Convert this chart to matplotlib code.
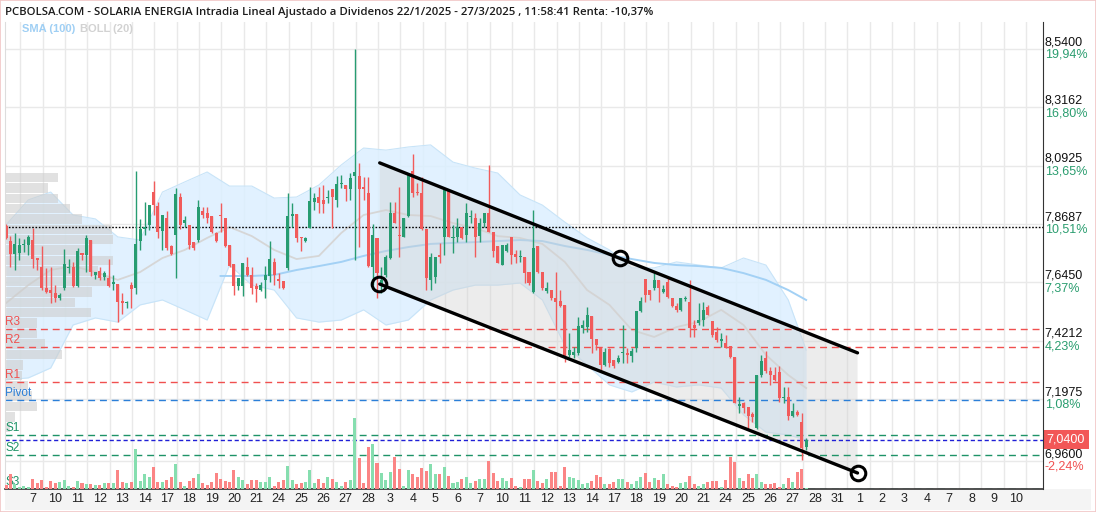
import numpy as np
import matplotlib
matplotlib.use("Agg")
import matplotlib.pyplot as plt
from matplotlib.patches import Rectangle, Polygon

# --- datos: velas intradia SOLARIA (5 velas por sesion) ---
apertura = [7.862, 7.804, 7.753, 7.756, 7.787, 7.788, 7.807, 7.738, 7.702, 7.623,
            7.615, 7.603, 7.583, 7.624, 7.700, 7.705, 7.631, 7.757, 7.750, 7.807,
            7.673, 7.688, 7.666, 7.660, 7.637, 7.638, 7.573, 7.564, 7.634, 7.622,
            7.804, 7.849, 7.865, 7.992, 7.938, 7.843, 7.890, 7.784, 7.826, 7.973,
            7.874, 7.865, 7.799, 7.807, 7.918, 7.912, 7.899, 7.833, 7.903, 7.890,
            7.788, 7.715, 7.631, 7.631, 7.702, 7.673, 7.632, 7.615, 7.654, 7.670,
            7.724, 7.656, 7.650, 7.701, 7.899, 7.908, 7.820, 7.804, 7.854, 7.954,
            7.973, 7.961, 7.967, 8.003, 7.961, 8.021, 8.018, 8.003, 8.053, 8.053,
            8.012, 7.986, 7.705, 7.816, 7.634, 7.673, 7.737, 7.910, 7.826, 7.820,
            7.899, 8.072, 7.992, 7.989, 7.848, 7.654, 7.664, 7.750, 7.820, 7.995,
            7.814, 7.820, 7.858, 7.826, 7.895, 7.893, 7.824, 7.871, 7.910, 7.839,
            7.784, 7.711, 7.766, 7.817, 7.752, 7.741, 7.743, 7.685, 7.609, 7.784,
            7.685, 7.611, 7.615, 7.583, 7.574, 7.558, 7.366, 7.366, 7.372, 7.468,
            7.474, 7.515, 7.426, 7.392, 7.327, 7.388, 7.347, 7.340, 7.372, 7.372,
            7.362, 7.392, 7.536, 7.656, 7.615, 7.622, 7.654, 7.609, 7.647, 7.583,
            7.554, 7.539, 7.580, 7.570, 7.481, 7.487, 7.500, 7.551, 7.496, 7.455,
            7.420, 7.411, 7.400, 7.357, 7.171, 7.180, 7.167, 7.139, 7.085, 7.289,
            7.353, 7.304, 7.289, 7.299, 7.200, 7.203, 7.133, 7.148, 7.110, 7.014]
maximo = [7.868, 7.822, 7.835, 7.815, 7.811, 7.826, 7.853, 7.739, 7.784, 7.700,
          7.705, 7.634, 7.604, 7.773, 7.734, 7.724, 7.775, 7.757, 7.826, 7.807,
          7.683, 7.705, 7.688, 7.733, 7.673, 7.638, 7.603, 7.573, 7.647, 8.072,
          7.887, 7.954, 7.941, 8.033, 7.954, 7.903, 7.918, 7.788, 8.005, 7.989,
          7.899, 7.865, 7.799, 7.961, 7.935, 7.933, 7.899, 7.839, 7.948, 7.890,
          7.788, 7.715, 7.662, 7.718, 7.741, 7.705, 7.641, 7.647, 7.707, 7.804,
          7.737, 7.679, 7.650, 7.989, 7.948, 7.908, 7.820, 7.820, 8.012, 7.986,
          8.012, 8.018, 7.999, 8.003, 8.053, 8.057, 8.018, 8.065, 8.539, 8.104,
          8.050, 8.050, 7.867, 7.816, 7.705, 7.750, 7.954, 7.954, 8.012, 7.890,
          8.063, 8.136, 8.025, 8.050, 7.848, 7.757, 7.743, 7.794, 7.999, 7.995,
          7.865, 7.890, 7.858, 7.948, 7.922, 7.910, 7.890, 7.912, 8.095, 7.839,
          7.784, 7.788, 7.795, 7.817, 7.769, 7.769, 7.743, 7.685, 7.922, 7.784,
          7.685, 7.647, 7.615, 7.685, 7.615, 7.558, 7.449, 7.398, 7.513, 7.500,
          7.551, 7.515, 7.426, 7.392, 7.392, 7.392, 7.347, 7.366, 7.481, 7.392,
          7.394, 7.535, 7.587, 7.656, 7.615, 7.679, 7.654, 7.634, 7.660, 7.583,
          7.564, 7.583, 7.592, 7.654, 7.500, 7.564, 7.570, 7.558, 7.496, 7.472,
          7.449, 7.443, 7.400, 7.357, 7.206, 7.187, 7.167, 7.148, 7.289, 7.366,
          7.381, 7.321, 7.321, 7.324, 7.244, 7.244, 7.180, 7.155, 7.142, 7.046]
minimo = [7.811, 7.703, 7.692, 7.730, 7.762, 7.750, 7.700, 7.692, 7.615, 7.605,
          7.567, 7.570, 7.577, 7.615, 7.682, 7.628, 7.628, 7.730, 7.686, 7.669,
          7.656, 7.654, 7.654, 7.628, 7.615, 7.494, 7.523, 7.546, 7.545, 7.600,
          7.769, 7.826, 7.845, 7.903, 7.814, 7.769, 7.769, 7.750, 7.662, 7.848,
          7.856, 7.771, 7.769, 7.801, 7.890, 7.871, 7.834, 7.801, 7.839, 7.781,
          7.705, 7.596, 7.615, 7.593, 7.669, 7.600, 7.570, 7.613, 7.583, 7.647,
          7.634, 7.624, 7.619, 7.692, 7.858, 7.801, 7.766, 7.801, 7.854, 7.922,
          7.910, 7.910, 7.948, 7.852, 7.935, 8.005, 7.958, 7.961, 7.730, 7.781,
          7.961, 7.705, 7.634, 7.583, 7.603, 7.664, 7.734, 7.871, 7.743, 7.817,
          7.896, 7.971, 7.980, 7.845, 7.615, 7.615, 7.641, 7.720, 7.750, 7.819,
          7.756, 7.801, 7.810, 7.801, 7.871, 7.743, 7.801, 7.858, 7.839, 7.743,
          7.718, 7.711, 7.760, 7.715, 7.720, 7.724, 7.641, 7.634, 7.603, 7.679,
          7.615, 7.603, 7.577, 7.462, 7.551, 7.340, 7.359, 7.353, 7.366, 7.449,
          7.455, 7.372, 7.385, 7.302, 7.324, 7.321, 7.315, 7.335, 7.334, 7.334,
          7.340, 7.378, 7.532, 7.570, 7.577, 7.615, 7.570, 7.603, 7.583, 7.551,
          7.532, 7.536, 7.573, 7.436, 7.436, 7.481, 7.477, 7.519, 7.436, 7.417,
          7.398, 7.392, 7.353, 7.180, 7.142, 7.142, 7.085, 7.110, 7.081, 7.283,
          7.298, 7.251, 7.267, 7.187, 7.180, 7.116, 7.129, 7.132, 6.963, 7.001]
cierre = [7.814, 7.752, 7.792, 7.788, 7.792, 7.820, 7.734, 7.730, 7.622, 7.609,
          7.605, 7.583, 7.596, 7.715, 7.705, 7.631, 7.766, 7.750, 7.816, 7.686,
          7.683, 7.660, 7.679, 7.631, 7.647, 7.568, 7.567, 7.570, 7.620, 7.792,
          7.849, 7.858, 7.941, 7.941, 7.839, 7.903, 7.775, 7.753, 7.984, 7.865,
          7.884, 7.788, 7.775, 7.933, 7.903, 7.893, 7.839, 7.804, 7.900, 7.784,
          7.707, 7.631, 7.662, 7.718, 7.673, 7.624, 7.619, 7.634, 7.673, 7.734,
          7.673, 7.651, 7.624, 7.900, 7.908, 7.816, 7.814, 7.816, 7.957, 7.969,
          7.948, 7.944, 7.973, 7.973, 8.021, 8.025, 8.003, 8.046, 8.068, 8.002,
          8.003, 7.707, 7.826, 7.679, 7.654, 7.741, 7.912, 7.873, 7.824, 7.890,
          8.057, 7.989, 7.989, 7.849, 7.660, 7.741, 7.741, 7.741, 7.999, 7.820,
          7.820, 7.858, 7.814, 7.910, 7.899, 7.820, 7.873, 7.910, 7.839, 7.766,
          7.720, 7.788, 7.788, 7.750, 7.741, 7.743, 7.679, 7.641, 7.775, 7.683,
          7.622, 7.622, 7.583, 7.570, 7.555, 7.359, 7.385, 7.378, 7.477, 7.481,
          7.519, 7.426, 7.404, 7.327, 7.378, 7.334, 7.324, 7.353, 7.375, 7.366,
          7.381, 7.535, 7.574, 7.596, 7.596, 7.654, 7.622, 7.618, 7.587, 7.554,
          7.539, 7.583, 7.583, 7.468, 7.468, 7.500, 7.539, 7.519, 7.443, 7.423,
          7.427, 7.392, 7.357, 7.183, 7.178, 7.161, 7.132, 7.129, 7.289, 7.344,
          7.304, 7.289, 7.270, 7.200, 7.202, 7.133, 7.151, 7.136, 7.008, 7.040]
volumen = [40, 147, 47, 17, 30, 25, 100, 57, 90, 23,
           80, 57, 67, 90, 30, 23, 80, 57, 47, 47,
           40, 40, 57, 57, 57, 190, 67, 57, 67, 400,
           80, 147, 117, 217, 67, 67, 90, 117, 247, 67,
           30, 80, 107, 147, 57, 40, 67, 157, 100, 80,
           67, 190, 117, 90, 47, 90, 90, 67, 67, 117,
           30, 67, 90, 233, 90, 47, 57, 67, 190, 57,
           100, 57, 117, 100, 67, 30, 67, 90, 710, 310,
           57, 420, 450, 257, 157, 90, 167, 320, 197, 33,
           190, 147, 123, 207, 180, 247, 147, 147, 223, 133,
           57, 67, 100, 123, 57, 80, 100, 100, 280, 157,
           80, 107, 80, 107, 33, 17, 100, 100, 190, 80,
           57, 100, 167, 167, 30, 223, 123, 113, 90, 47,
           57, 80, 140, 123, 47, 47, 67, 100, 100, 67,
           47, 80, 123, 157, 67, 107, 90, 147, 47, 33,
           23, 57, 67, 133, 47, 33, 47, 67, 80, 80,
           23, 90, 323, 273, 107, 80, 147, 113, 147, 67,
           47, 47, 57, 23, 47, 107, 67, 167, 200, 7]

# sesiones: 6/2/2025 ... 27/3 con datos, luego dias futuros
dias = ["6", "7", "10", "11", "12", "13", "14", "17", "18", "19", "20", "21", "24", "25",
        "26", "27", "28", "3", "4", "5", "6", "7", "10", "11", "12", "13", "14", "17",
        "18", "19", "20", "21", "24", "25", "26", "27", "28", "31", "1", "2", "3", "4",
        "7", "8", "9", "10"]
velas_dia = 5

# bandas de Bollinger (20) y SMA (100), leidas cada 5 velas
banda_idx = [0, 5, 10, 15, 20, 25, 30, 35, 40, 45, 50, 55, 60, 65, 70, 75, 80, 85,
             90, 95, 100, 105, 110, 115, 120, 125, 130, 135, 140, 145, 150, 155, 160,
             165, 170, 175, 179]
boll_sup = [7.865, 7.961, 7.991, 7.903, 7.888, 7.819, 7.807, 7.991, 8.030, 8.068,
            8.014, 8.014, 7.968, 7.972, 8.018, 8.095, 8.160, 8.152, 8.164, 8.172,
            8.106, 8.083, 8.064, 7.980, 7.941, 7.876, 7.815, 7.769, 7.700, 7.700,
            7.723, 7.711, 7.700, 7.738, 7.711, 7.577, 7.385]
boll_inf = [7.270, 7.278, 7.316, 7.481, 7.508, 7.492, 7.558, 7.577, 7.539, 7.500,
            7.711, 7.634, 7.615, 7.508, 7.492, 7.500, 7.539, 7.481, 7.500, 7.577,
            7.615, 7.634, 7.634, 7.642, 7.577, 7.404, 7.327, 7.251, 7.224, 7.262,
            7.243, 7.251, 7.239, 7.136, 7.070, 7.059, 7.040]
boll_med = [7.565, 7.634, 7.692, 7.707, 7.684, 7.654, 7.684, 7.738, 7.769, 7.815,
            7.857, 7.822, 7.769, 7.734, 7.746, 7.834, 7.903, 7.922, 7.903, 7.899,
            7.872, 7.853, 7.822, 7.815, 7.792, 7.723, 7.615, 7.558, 7.462, 7.435,
            7.473, 7.493, 7.539, 7.481, 7.366, 7.289, 7.239]
sma_idx = [48, 50, 55, 60, 65, 70, 75, 80, 85, 90, 95, 100, 105, 110, 115, 120, 125,
           130, 135, 140, 145, 150, 155, 160, 165, 170, 175, 179]
sma100 = [7.669, 7.669, 7.669, 7.673, 7.692, 7.707, 7.723, 7.746, 7.765, 7.780, 7.792,
          7.796, 7.799, 7.803, 7.807, 7.803, 7.784, 7.769, 7.750, 7.734, 7.719, 7.711,
          7.707, 7.700, 7.680, 7.654, 7.615, 7.577]

# perfil de volumen por precio (lado izquierdo)
perfil_precio = [8.047, 8.007, 7.967, 7.928, 7.888, 7.848, 7.808, 7.768, 7.728, 7.688,
                 7.648, 7.608, 7.568, 7.528, 7.488, 7.448, 7.408, 7.368, 7.328, 7.288,
                 7.248, 7.208, 7.168, 7.128, 7.088]
perfil_vol = [53, 43, 53, 65, 77, 107, 108, 86, 108, 93, 106, 87, 70, 86, 32, 32, 40,
              57, 18, 17, 23, 27, 32, 10, 5]

# niveles pivote
pivotes = ["R3", "R2", "R1", "Pivot", "S1", "S2", "S3"]
pivote_val = [7.464, 7.395, 7.262, 7.193, 7.058, 6.983, 6.850]

# canal bajista dibujado (indice de vela, precio)
canal_x = [83.6, 190.5]
canal_sup = [8.103, 7.374]
canal_inf = [7.638, 6.913]
puntos_x = [83.4, 137.4, 190.6]
puntos_y = [7.638, 7.738, 6.913]

precio_ini = 7.857
precio_act = 7.04
ticks_y = [8.54, 8.3162, 8.0925, 7.8687, 7.645, 7.4212, 7.1975, 6.96]
ticks_pct = ["19,94%", "16,80%", "13,65%", "10,51%", "7,37%", "4,23%", "1,08%", "-2,24%"]

titulo = ("PCBOLSA.COM - SOLARIA ENERGIA Intradia Lineal Ajustado a Dividenos "
          "22/1/2025 - 27/3/2025 , 11:58:41 Renta: -10,37%")

# --- figura ---
W, H = 1096, 512
fig = plt.figure(figsize=(W / 100, H / 100), dpi=100)
plt.rcParams['font.family'] = ['Liberation Sans', 'DejaVu Sans']

# fondo de la banda de fechas (debajo de los ejes)
fig.patches.append(Rectangle((5 / W, 2 / H), (1091 - 5) / W, (512 - 489 - 2) / H,
                             transform=fig.transFigure, fc="#f4f4f4", ec="none",
                             zorder=-5))

px_l, px_r, px_t, px_b = 5, 1042.5, 22, 489
ax = fig.add_axes([px_l / W, (H - px_b) / H, (px_r - px_l) / W, (px_b - px_t) / H])
ax.patch.set_alpha(0)
px_por_vela = 4.47
x_ini = (px_l - 6) / px_por_vela
x_fin = (px_r - 6) / px_por_vela
ax.set_xlim(x_ini, x_fin)
ax.set_ylim(8.54 - (px_b - 49) / 260.6, 8.54 + (49 - px_t) / 260.6)

ax.spines["top"].set_visible(False)
ax.spines["left"].set_color("#dddddd")
ax.spines["right"].set_color("#333333")
ax.spines["bottom"].set_color("#333333")
ax.spines["bottom"].set_linewidth(1.2)
for s in ax.spines.values():
    s.set_zorder(20)
ax.set_xticks([])
ax.set_yticks([])

# rejilla
for t in ticks_y:
    ax.axhline(t, color="#e9e9e9", lw=1, zorder=0)
for d in range(len(dias)):
    ax.axvline(d * velas_dia + 3.2, color="#e9e9e9", lw=1, zorder=0)

# bandas
ax.fill_between(banda_idx, boll_inf, boll_sup, color="#dcefff", alpha=0.85, lw=0, zorder=1)
ax.plot(banda_idx, boll_sup, color="#c8e4f8", lw=0.8, zorder=1.1)
ax.plot(banda_idx, boll_inf, color="#c8e4f8", lw=0.8, zorder=1.1)
ax.plot(banda_idx, boll_med, color="#d6d6d6", lw=1.3, zorder=1.2)
ax.plot(sma_idx, sma100, color="#a3d1f5", lw=1.4, zorder=1.3)

# perfil de volumen
ax.barh(perfil_precio, np.array(perfil_vol) / px_por_vela, left=x_ini, height=0.036,
        color="#cdcdcd", alpha=0.6, lw=0, zorder=1.4)

# canal
poly = Polygon([(canal_x[0], canal_sup[0]), (canal_x[1], canal_sup[1]),
                (canal_x[1], canal_inf[1]), (canal_x[0], canal_inf[0])],
               closed=True, fc="#d2d2d2", ec="none", alpha=0.42, zorder=1.5)
ax.add_patch(poly)

# pivotes
col_piv = {"R": "#f0504f", "P": "#2b7fd8", "S": "#1e9367"}
for nom, val in zip(pivotes, pivote_val):
    col = col_piv[nom[0]]
    ax.axhline(val, color=col, lw=1, ls=(0, (5, 3.5)), zorder=2)
    ax.text(x_ini + 0.1, val + 0.004, nom, color=col, fontsize=8.5, va="bottom",
            ha="left", zorder=6)
ax.axhline(precio_act, color="#1f1fd6", lw=1, ls=(0, (3, 2)), zorder=2)
ax.axhline(precio_ini, color="black", lw=1, ls=(0, (1.2, 1.2)), zorder=2)

# velas
x = np.arange(len(cierre))
o = np.array(apertura)
c = np.array(cierre)
sube = c >= o
col_v = np.where(sube, "#279c71", "#f15b5b")
ax.vlines(x, minimo, maximo, colors=col_v, lw=1, zorder=3)
cuerpo = np.maximum(np.abs(c - o), 0.004)
ax.bar(x, cuerpo, bottom=np.minimum(o, c), width=0.68, color=col_v, lw=0, zorder=3.1)

# volumen
axv = ax.twinx()
axv.set_ylim(0, 4670)
axv.set_axis_off()
col_vol = np.where(sube, "#86deaf", "#fb8585")
axv.bar(x, volumen, width=0.68, color=col_vol, lw=0, zorder=2)
axv.set_xlim(x_ini, x_fin)

# lineas del canal y puntos
ax.plot(canal_x, canal_sup, color="black", lw=2.4, zorder=5, solid_capstyle="round")
ax.plot(canal_x, canal_inf, color="black", lw=2.4, zorder=5, solid_capstyle="round")
ax.plot(puntos_x, puntos_y, "o", ms=10.5, mfc="none", mec="black", mew=2.2, zorder=5.1)

# etiquetas eje derecho
for t, pct in zip(ticks_y, ticks_pct):
    ax.annotate(f"{t:.4f}".replace(".", ","), xy=(1, t), xycoords=("axes fraction", "data"),
                xytext=(1.5, 0.5), textcoords="offset points", fontsize=9, color="#111111",
                va="bottom", ha="left", annotation_clip=False)
    ax.annotate(pct, xy=(1, t), xycoords=("axes fraction", "data"),
                xytext=(1.5, 0), textcoords="offset points", fontsize=9,
                color="#f05050" if pct.startswith("-") else "#2a9d6f", va="top", ha="left",
                annotation_clip=False)
ax.annotate(f"{precio_act:.4f}".replace(".", ","), xy=(1, precio_act),
            xycoords=("axes fraction", "data"), xytext=(3, 0), textcoords="offset points",
            fontsize=9, color="white", va="center", ha="left", annotation_clip=False,
            bbox=dict(boxstyle="square,pad=0.28", fc="#f25757", ec="none"), zorder=10)

# eje x
for d in range(1, len(dias)):
    ax.annotate(dias[d], xy=(d * velas_dia + 1, 0), xycoords=("data", "axes fraction"),
                xytext=(0, -7), textcoords="offset points", fontsize=9, color="#222222",
                ha="center", va="center", annotation_clip=False)

# titulo y leyenda
fig.text(5 / W, 1 - 12 / H, titulo, fontsize=8.2, color="#1c1c1c", va="center", ha="left",
         family=["Open Sans", "DejaVu Sans"], fontweight="semibold")
fig.text(22 / W, 1 - 29 / H, "SMA (100)", fontsize=8, color="#9fcff4", va="center",
         ha="left", fontweight="bold")
fig.text(80 / W, 1 - 29 / H, "BOLL (20)", fontsize=8, color="#d2d2d2", va="center",
         ha="left", fontweight="bold")

fig.patches.append(Rectangle((0, 0), 1, 1, transform=fig.transFigure, fc="none",
                             ec="#f1c6c6", lw=1.2, zorder=30))

fig.savefig("out.png", dpi=100)
